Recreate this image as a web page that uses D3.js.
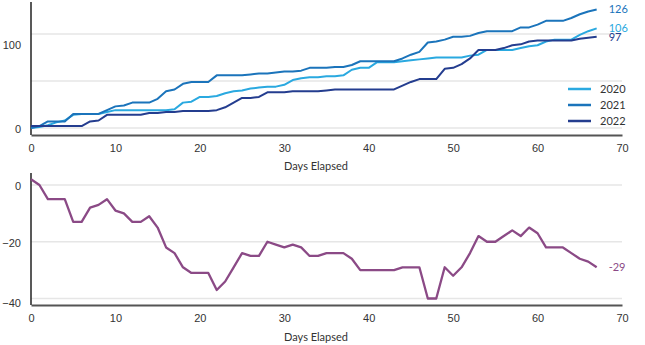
<!DOCTYPE html>
<html>
<head>
<meta charset="utf-8">
<script src="https://cdn.jsdelivr.net/npm/d3@7"></script>
<style>
  body { margin: 0; background: #fff; }
  svg { display: block; font-family: Lato, "Open Sans", sans-serif; }
  .tick text { fill: #333; font-size: 11px; }
  .lbl { fill: #333; font-size: 11px; }
</style>
</head>
<body>
<div id="chart"></div>
<script>
// Data
const days = d3.range(0, 68);
const s2020 = [0, 1, 3, 6, 8, 14, 15, 15, 15, 17, 19, 19, 19, 19, 19, 19, 19, 20, 27, 28,
  33, 33, 34, 37, 39, 40, 42, 43, 44, 44, 46, 51, 53, 54, 54, 55, 55, 56, 62, 64,
  64, 70, 70, 70, 71, 72, 73, 74, 75, 75, 75, 75, 77, 78, 83, 83, 83, 83, 85, 87,
  88, 92, 94, 94, 94, 99, 103, 106];
const s2021 = [0, 2, 7, 7, 7, 15, 15, 15, 15, 19, 23, 24, 27, 27, 27, 31, 39, 41, 47, 49,
  49, 49, 56, 56, 56, 56, 57, 58, 58, 59, 60, 60, 61, 64, 64, 64, 65, 65, 67, 71,
  71, 71, 71, 71, 74, 78, 81, 91, 92, 94, 97, 97, 98, 101, 103, 103, 103, 103, 107, 107,
  110, 114, 114, 114, 117, 121, 124, 126];
const s2022 = [2, 2, 2, 2, 2, 2, 2, 7, 8, 14, 14, 14, 14, 14, 16, 16, 17, 17, 18, 18,
  18, 18, 19, 22, 27, 32, 32, 33, 38, 38, 38, 39, 39, 39, 39, 40, 41, 41, 41, 41,
  41, 41, 41, 41, 45, 49, 52, 52, 52, 63, 64, 68, 74, 83, 83, 83, 85, 88, 89, 92,
  93, 93, 93, 93, 93, 95, 96, 97];
const diff = [2, 0, -5, -5, -5, -13, -13, -8, -7, -5, -9, -10, -13, -13, -11, -15, -22, -24, -29, -31,
  -31, -31, -37, -34, -29, -24, -25, -25, -20, -21, -22, -21, -22, -25, -25, -24, -24, -24, -26, -30,
  -30, -30, -30, -30, -29, -29, -29, -40, -40, -29, -32, -29, -24, -18, -20, -20, -18, -16, -18, -15,
  -17, -22, -22, -22, -24, -26, -27, -29];

const seriesNames = ["2020", "2021", "2022"];
const seriesColors = ["#2aa9e0", "#1b74bb", "#243d8f"];
const diffColor = "#8b4a86";
const xTicks = [0, 10, 20, 30, 40, 50, 60, 70];

const width = 645, height = 345;
const left = 31, right = 622;

const svg = d3.select("#chart").append("svg")
  .attr("width", width)
  .attr("height", height);

const x = d3.scaleLinear().domain([0, 70]).range([left, right]);

// ---------- top chart: cumulative counts ----------
const yTop = d3.scaleLinear().domain([0, 100]).range([128, 34]);
const topG = svg.append("g");

// gridlines
topG.selectAll(".grid")
  .data([0, 50, 100])
  .enter().append("line")
  .attr("x1", left).attr("x2", right)
  .attr("y1", d => yTop(d)).attr("y2", d => yTop(d))
  .attr("stroke", "#e6e6e6").attr("stroke-width", 1.5);

// y axis
const yAxisTop = topG.append("g")
  .attr("transform", `translate(${left},0)`)
  .call(d3.axisLeft(yTop).tickValues([0, 100]).tickSize(0).tickPadding(10));
yAxisTop.select(".domain").remove();
yAxisTop.selectAll(".tick text").attr("dy", d => d === 100 ? "1.3em" : "0.45em");
topG.append("line")
  .attr("x1", left).attr("x2", left).attr("y1", 2).attr("y2", 135)
  .attr("stroke", "#222").attr("stroke-width", 1.5);

// x axis
const xAxisTop = topG.append("g")
  .attr("transform", "translate(0,135)")
  .call(d3.axisBottom(x).tickValues(xTicks).tickSize(0).tickPadding(9));
xAxisTop.select(".domain").attr("stroke", "#555").attr("stroke-width", 2);

topG.append("text").attr("class", "lbl")
  .attr("x", 316).attr("y", 170).attr("text-anchor", "middle")
  .text("Days Elapsed");

const lineTop = d3.line().x((d, i) => x(days[i])).y(d => yTop(d));
[s2020, s2021, s2022].forEach((s, k) => {
  topG.append("path")
    .datum(s)
    .attr("fill", "none")
    .attr("stroke", seriesColors[k])
    .attr("stroke-width", 2)
    .attr("stroke-linejoin", "round")
    .attr("d", lineTop);
});

// end labels
[s2020, s2021, s2022].forEach((s, k) => {
  topG.append("text")
    .attr("x", x(days[days.length - 1]) + 12)
    .attr("y", yTop(s[s.length - 1]))
    .attr("dy", "0.35em")
    .attr("fill", seriesColors[k])
    .attr("font-size", 11)
    .text(s[s.length - 1]);
});

// legend
const legend = topG.selectAll(".legend")
  .data(seriesNames)
  .enter().append("g")
  .attr("transform", (d, i) => `translate(568,${89 + i * 16})`);
legend.append("line")
  .attr("x1", 0).attr("x2", 23)
  .attr("stroke", (d, i) => seriesColors[i]).attr("stroke-width", 2.5);
legend.append("text").attr("class", "lbl")
  .attr("x", 32).attr("dy", "0.35em")
  .attr("font-size", 11.5)
  .text(d => d);

// ---------- bottom chart: 2022 vs 2021 ----------
const yBot = d3.scaleLinear().domain([-40, 0]).range([298.5, 185]);
const botG = svg.append("g");

botG.selectAll(".grid")
  .data([0, -20, -40])
  .enter().append("line")
  .attr("x1", left).attr("x2", right)
  .attr("y1", d => yBot(d)).attr("y2", d => yBot(d))
  .attr("stroke", "#e6e6e6").attr("stroke-width", 1.5);

const yAxisBot = botG.append("g")
  .attr("transform", `translate(${left},0)`)
  .call(d3.axisLeft(yBot).tickValues([0, -20, -40]).tickSize(0).tickPadding(10));
yAxisBot.select(".domain").remove();
yAxisBot.selectAll(".tick text").attr("dy", d => d === -40 ? "0.7em" : "0.4em");
botG.append("line")
  .attr("x1", left).attr("x2", left).attr("y1", 173).attr("y2", 305)
  .attr("stroke", "#222").attr("stroke-width", 1.5);

const xAxisBot = botG.append("g")
  .attr("transform", "translate(0,305)")
  .call(d3.axisBottom(x).tickValues(xTicks).tickSize(0).tickPadding(9));
xAxisBot.select(".domain").attr("stroke", "#555").attr("stroke-width", 2);

botG.append("text").attr("class", "lbl")
  .attr("x", 316).attr("y", 341).attr("text-anchor", "middle")
  .text("Days Elapsed");

botG.append("path")
  .datum(diff)
  .attr("fill", "none")
  .attr("stroke", diffColor)
  .attr("stroke-width", 2.3)
  .attr("stroke-linejoin", "round")
  .attr("d", d3.line().x((d, i) => x(days[i])).y(d => yBot(d)));

botG.append("text")
  .attr("x", x(days[days.length - 1]) + 12)
  .attr("y", yBot(diff[diff.length - 1]))
  .attr("dy", "0.35em")
  .attr("fill", diffColor)
  .attr("font-size", 11)
  .text(diff[diff.length - 1]);
</script>
</body>
</html>
